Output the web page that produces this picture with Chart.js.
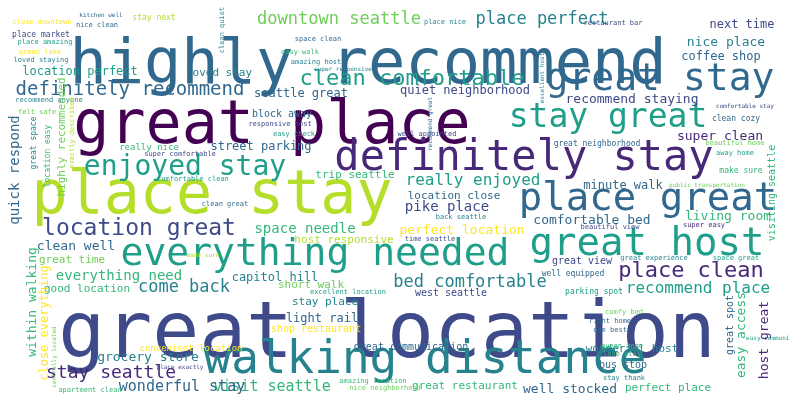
<!DOCTYPE html>
<html>
<head>
<meta charset="utf-8">
<script src="https://cdn.jsdelivr.net/npm/chart.js@4"></script>
<style>
  body { margin: 0; background: #fff; }
  #wrap { width: 790px; height: 405px; }
</style>
</head>
<body>
<div id="wrap"><canvas id="cloud"></canvas></div>
<script>
// Word cloud of review phrases - words placed on a 790 x 405 grid
const words = [
    "great location", "highly recommend", "great place", "place stay", "definitely stay",
    "walking distance", "everything needed", "great host", "place great", "great stay",
    "stay great", "enjoyed stay", "clean comfortable", "location great", "place clean",
    "downtown seattle", "place perfect", "definitely recommend", "bed comfortable", "stay seattle",
    "really enjoyed", "recommend place", "perfect location", "well stocked", "super clean",
    "come back", "next time", "nice place", "coffee shop", "quiet neighborhood",
    "recommend staying", "seattle great", "visit seattle", "location perfect", "loved stay",
    "street parking", "space needle", "capitol hill", "clean well", "everything need",
    "grocery store", "wonderful stay", "light rail", "pike place", "comfortable bed",
    "living room", "minute walk", "wonderful host", "perfect place", "great restaurant",
    "location close", "great time", "good location", "stay place", "short walk",
    "host responsive", "shop restaurant", "convenient location", "west seattle", "great communication",
    "great view", "well equipped", "parking spot", "bus stop", "great neighborhood",
    "really nice", "trip seattle", "block away", "place market", "clean cozy",
    "comfortable stay", "public transportation", "make sure", "beautiful home", "close downtown",
    "nice clean", "place amazing", "green lake", "loved staying", "recommend anyone",
    "felt safe", "easy check", "responsive host", "space clean", "amazing host",
    "easy walk", "super comfortable", "comfortable clean", "clean great", "restaurant bar",
    "place nice", "stay next", "well appointed", "away home", "comfy bed",
    "right home", "one best", "queen anne", "love stay", "stay thank",
    "great experience", "space great", "super easy", "beautiful view", "back seattle",
    "time seattle", "apartment clean", "nice neighborhood", "amazing location", "place exactly",
    "excellent location", "made sure", "kitchen well", "super responsive", "easy communicate",
    "within walking", "close everything", "quick respond", "highly recommended", "host great",
    "easy access", "great spot", "visiting seattle", "great space", "location easy",
    "clean quiet", "exactly described", "recommend great", "excellent host", "centrally located"
];
const xValues = [
    387, 368, 272, 212, 524,
    425, 315, 647, 648, 660,
    608, 185, 412, 139, 691,
    339, 542, 130, 470, 111,
    473, 698, 462, 570, 720,
    184, 742, 726, 721, 465,
    632, 301, 272, 80, 219,
    261, 305, 275, 76, 119,
    148, 182, 322, 447, 592,
    728, 623, 632, 668, 465,
    454, 72, 87, 325, 311,
    344, 316, 191, 451, 411,
    582, 573, 594, 623, 597,
    149, 355, 282, 41, 736,
    745, 707, 741, 735, 42,
    97, 45, 40, 41, 49,
    37, 294, 280, 318, 316,
    300, 180, 193, 225, 613,
    445, 154, 427, 735, 624,
    610, 610, 622, 622, 624,
    654, 736, 704, 610, 461,
    430, 90, 385, 373, 180,
    348, 203, 101, 343, 775,
    33, 45, 15, 62, 765,
    742, 730, 772, 34, 48,
    222, 72, 430, 542, 54
];
const yValues = [
    357, 83, 143, 213, 170,
    373, 265, 255, 210, 90,
    127, 175, 85, 235, 277,
    24, 24, 95, 287, 378,
    185, 293, 234, 393, 140,
    292, 28, 46, 60, 94,
    103, 97, 391, 75, 76,
    150, 233, 281, 250, 280,
    361, 391, 322, 211, 224,
    220, 189, 352, 391, 389,
    199, 263, 292, 305, 288,
    243, 332, 351, 296, 350,
    264, 276, 294, 368, 146,
    150, 178, 117, 37, 121,
    108, 187, 173, 145, 24,
    27, 44, 54, 62, 102,
    114, 136, 126, 41, 64,
    54, 156, 181, 206, 25,
    24, 20, 136, 155, 314,
    323, 332, 348, 356, 380,
    260, 260, 227, 229, 219,
    241, 392, 390, 383, 369,
    294, 257, 17, 71, 340,
    302, 323, 170, 137, 340,
    335, 325, 193, 143, 156,
    30, 133, 124, 78, 357
];
const weights = [
    78, 62, 60, 60, 42,
    46, 38, 39, 39, 38,
    33, 28, 22, 23, 22,
    17, 17, 19, 17, 18,
    16, 16, 13, 13, 13,
    17, 12, 13, 12, 12,
    13, 12, 15, 12, 11,
    12, 14, 12, 13, 14,
    13, 15, 12, 14, 13,
    13, 12, 11, 11, 11,
    11, 11, 11, 11, 11,
    11, 10, 9, 10, 10,
    10, 8, 8, 10, 8,
    9, 11, 10, 8, 8,
    6, 6, 8, 7, 7,
    7, 7, 7, 7, 7,
    7, 7, 7, 7, 7,
    7, 7, 7, 7, 7,
    7, 8, 7, 7, 7,
    7, 7, 7, 7, 7,
    7, 7, 7, 7, 7,
    7, 7, 7, 7, 6,
    7, 6, 6, 6, 6,
    13, 12, 14, 11, 13,
    13, 10, 10, 8, 8,
    7, 7, 6, 6, 6
];
const palette = ["#440154", "#482878", "#3e4a89", "#31688e", "#26828e", "#1f9e89", "#35b779", "#6ece58", "#b5de2b", "#fde725"];
const colourIndex = [
    2, 3, 0, 8, 1,
    4, 5, 5, 3, 3,
    5, 5, 5, 2, 1,
    7, 4, 3, 4, 1,
    5, 5, 9, 3, 1,
    4, 2, 4, 3, 2,
    2, 3, 6, 5, 4,
    3, 6, 4, 3, 6,
    4, 3, 3, 2, 3,
    6, 3, 4, 6, 6,
    3, 7, 6, 4, 7,
    8, 9, 9, 2, 3,
    2, 3, 5, 3, 3,
    6, 6, 3, 2, 3,
    2, 7, 6, 7, 9,
    3, 5, 9, 4, 4,
    7, 5, 2, 3, 4,
    6, 2, 5, 3, 2,
    4, 8, 2, 5, 7,
    3, 3, 6, 6, 4,
    4, 5, 1, 2, 4,
    2, 6, 7, 6, 2,
    5, 8, 3, 4, 5,
    6, 9, 3, 7, 1,
    6, 3, 6, 4, 6,
    4, 8, 3, 4, 7
];
// the last fifteen phrases run vertically
const firstVertical = 115;

// Draws each word at its point, through the chart's own scales
const wordPlugin = {
    id: "words",
    afterDatasetsDraw(chart) {
        const c = chart.ctx;
        const meta = chart.getDatasetMeta(0);
        meta.data.forEach((pt, i) => {
            const vertical = i >= firstVertical;
            c.save();
            c.translate(pt.x, pt.y);
            if (vertical) c.rotate(-Math.PI / 2);
            c.font = `${weights[i]}px "DejaVu Sans Mono"`;
            c.fillStyle = palette[colourIndex[i]];
            c.textAlign = "center";
            c.textBaseline = vertical ? "middle" : "alphabetic";
            c.fillText(words[i], 0, 0);
            c.restore();
        });
    },
};

new Chart(document.getElementById("cloud"), {
    type: "scatter",
    data: {
        datasets: [{
            data: words.map((w, i) => ({ x: xValues[i], y: yValues[i] })),
            pointRadius: 0,
        }],
    },
    options: {
        responsive: true,
        maintainAspectRatio: false,
        animation: false,
        layout: { padding: 0 },
        plugins: { legend: { display: false }, tooltip: { enabled: false } },
        scales: {
            x: { display: false, min: 0, max: 790 },
            y: { display: false, min: 0, max: 405, reverse: true },
        },
    },
    plugins: [wordPlugin],
});
</script>
</body>
</html>
